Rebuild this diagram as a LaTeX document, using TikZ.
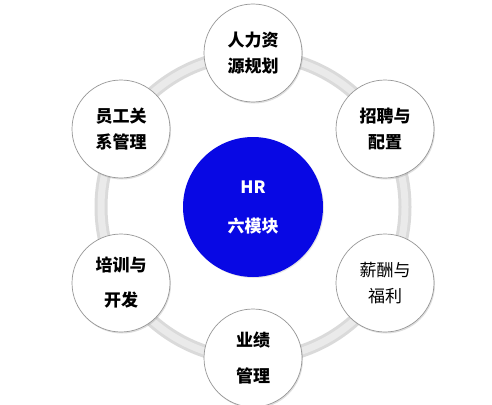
\documentclass[tikz,border=0pt]{standalone}
\usepackage{fontspec}
\setmainfont{Noto Sans CJK SC}
\usetikzlibrary{shadows}

\definecolor{hrblue}{RGB}{8,8,228}
\definecolor{ringedge}{RGB}{218,218,218}
\definecolor{ringmid}{RGB}{234,234,234}
\definecolor{rimgray}{RGB}{150,150,150}

\begin{document}
\begin{tikzpicture}[
  x=1pt, y=-1pt,
  module/.style={circle, draw=rimgray, line width=0.7pt, fill=white,
                 minimum size=98pt, inner sep=0pt, align=center,
                 font=\fontsize{17}{26}\selectfont\bfseries,
                 drop shadow={shadow xshift=1pt, shadow yshift=-1.5pt,
                              opacity=0.25}},
  hub/.style={circle, fill=hrblue, text=white, minimum size=140pt,
              inner sep=0pt, align=center,
              font=\fontsize{17}{26}\selectfont\bfseries,
              drop shadow={shadow xshift=1pt, shadow yshift=-1pt,
                           opacity=0.2}},
  ring/.style={line width=13pt, draw=ringedge}
]
\useasboundingbox (0,0) rectangle (492,404);
\node[hub] (hr) at (253,207) {HR\\[13pt]六模块};
% ring behind the modules
\draw[ring] (hr.center) circle[radius=152pt];
\draw[line width=7pt, draw=ringmid] (hr.center) circle[radius=152pt];
\node[module] (plan)    at (253,53)  {人力资\\源规划};
\node[module] (recruit) at (385,129) {招聘与\\配置};
\node[module, font=\fontsize{17}{26}\selectfont]
                (pay)     at (385,283) {薪酬与\\福利};
\node[module] (perf)    at (253,358) {业绩\\[10pt]管理};
\node[module] (train)   at (121,283) {培训与\\[9pt]开发};
\node[module] (staff)   at (121,129) {员工关\\系管理};
\end{tikzpicture}
\end{document}
